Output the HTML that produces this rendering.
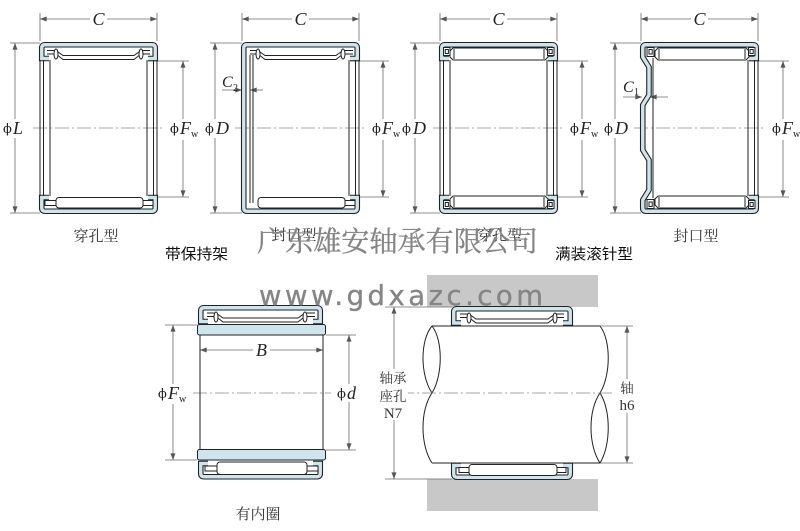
<!DOCTYPE html>
<html><head><meta charset="utf-8">
<style>
html,body{margin:0;padding:0;background:#fff;}
svg{display:block;}
.d{stroke:#6a6a6a;stroke-width:0.8;fill:none;}
.cl{stroke:#8a8a8a;stroke-width:0.8;fill:none;stroke-dasharray:14 3 2 3;}
.k{stroke:#222;stroke-width:1;fill:none;}
.kw{stroke:#222;stroke-width:1;fill:#fff;}
.b1{stroke:#222;stroke-width:5.6;fill:none;stroke-linejoin:miter;}
.b2{stroke:#cfe5ee;stroke-width:3.4;fill:none;stroke-linejoin:miter;}
.ring{stroke:#222;stroke-width:1;fill:#cfe5ee;}
.phi{font-family:"DejaVu Serif",serif;font-size:13px;fill:#222;}
.it{font-family:"Liberation Serif",serif;font-style:italic;font-size:18px;fill:#222;}
.sub{font-family:"Liberation Serif",serif;font-size:10px;fill:#222;}
.cap{font-family:"Liberation Serif","Noto Serif CJK SC",serif;font-size:15px;fill:#333;}
.hd{font-family:"Liberation Sans","Noto Sans CJK SC",sans-serif;font-size:15px;fill:#111;}
.wm{fill:#858585;stroke:#858585;stroke-width:0.35;}
</style></head>
<body>
<svg width="800" height="531" viewBox="0 0 800 531" xmlns="http://www.w3.org/2000/svg">
<defs>
<marker id="a" viewBox="0 0 8 6" refX="8" refY="3" markerWidth="7" markerHeight="5" markerUnits="userSpaceOnUse" orient="auto-start-reverse">
<path d="M0,0 L8,3 L0,6 z" fill="#555"/>
</marker>
</defs>

<!-- housing grey bars -->
<rect x="427" y="275" width="171" height="32" fill="#c8c8c8"/>
<rect x="427" y="479" width="171" height="32" fill="#c8c8c8"/>

<!-- ========== TOP ROW dimension lines ========== -->
<g>
<line class="cl" x1="33" y1="128" x2="164" y2="128"/>
<line class="cl" x1="235" y1="128" x2="366" y2="128"/>
<line class="cl" x1="433" y1="128" x2="564" y2="128"/>
<line class="cl" x1="634" y1="128" x2="765" y2="128"/>
</g>

<!-- B1 dims -->
<g>
<line class="d" x1="40" y1="13" x2="40" y2="41"/>
<line class="d" x1="157" y1="13" x2="157" y2="41"/>
<line class="d" x1="40" y1="19" x2="157" y2="19" marker-start="url(#a)" marker-end="url(#a)"/>
<line class="d" x1="10" y1="43" x2="40" y2="43"/>
<line class="d" x1="10" y1="213" x2="40" y2="213"/>
<line class="d" x1="15" y1="43" x2="15" y2="213" marker-start="url(#a)" marker-end="url(#a)"/>
<line class="d" x1="148" y1="61" x2="189" y2="61"/>
<line class="d" x1="148" y1="197" x2="189" y2="197"/>
<line class="d" x1="183" y1="61" x2="183" y2="197" marker-start="url(#a)" marker-end="url(#a)"/>
</g>
<!-- B2 dims -->
<g>
<line class="d" x1="242" y1="13" x2="242" y2="41"/>
<line class="d" x1="359" y1="13" x2="359" y2="41"/>
<line class="d" x1="242" y1="19" x2="359" y2="19" marker-start="url(#a)" marker-end="url(#a)"/>
<line class="d" x1="210" y1="43" x2="242" y2="43"/>
<line class="d" x1="210" y1="213" x2="242" y2="213"/>
<line class="d" x1="215" y1="43" x2="215" y2="213" marker-start="url(#a)" marker-end="url(#a)"/>
<line class="d" x1="350" y1="61" x2="389" y2="61"/>
<line class="d" x1="350" y1="197" x2="389" y2="197"/>
<line class="d" x1="383" y1="61" x2="383" y2="197" marker-start="url(#a)" marker-end="url(#a)"/>
<line class="d" x1="222" y1="90" x2="242" y2="90" marker-end="url(#a)"/>
<line class="d" x1="263" y1="90" x2="250" y2="90" marker-end="url(#a)"/>
</g>
<!-- B3 dims -->
<g>
<line class="d" x1="440" y1="13" x2="440" y2="41"/>
<line class="d" x1="557" y1="13" x2="557" y2="41"/>
<line class="d" x1="440" y1="19" x2="557" y2="19" marker-start="url(#a)" marker-end="url(#a)"/>
<line class="d" x1="410" y1="43" x2="440" y2="43"/>
<line class="d" x1="410" y1="213" x2="440" y2="213"/>
<line class="d" x1="415" y1="43" x2="415" y2="213" marker-start="url(#a)" marker-end="url(#a)"/>
<line class="d" x1="548" y1="61" x2="588" y2="61"/>
<line class="d" x1="548" y1="197" x2="588" y2="197"/>
<line class="d" x1="582" y1="61" x2="582" y2="197" marker-start="url(#a)" marker-end="url(#a)"/>
</g>
<!-- B4 dims -->
<g>
<line class="d" x1="641" y1="13" x2="641" y2="41"/>
<line class="d" x1="758" y1="13" x2="758" y2="41"/>
<line class="d" x1="641" y1="19" x2="758" y2="19" marker-start="url(#a)" marker-end="url(#a)"/>
<line class="d" x1="610" y1="43" x2="641" y2="43"/>
<line class="d" x1="610" y1="213" x2="641" y2="213"/>
<line class="d" x1="615" y1="43" x2="615" y2="213" marker-start="url(#a)" marker-end="url(#a)"/>
<line class="d" x1="749" y1="61" x2="789" y2="61"/>
<line class="d" x1="749" y1="197" x2="789" y2="197"/>
<line class="d" x1="783" y1="61" x2="783" y2="197" marker-start="url(#a)" marker-end="url(#a)"/>
<line class="d" x1="623" y1="97" x2="642" y2="97" marker-end="url(#a)"/>
<line class="d" x1="668" y1="97" x2="650" y2="97" marker-end="url(#a)"/>
</g>

<!-- ========== BEARING 1 (open end, caged) ========== -->
<g>
<path class="b1" d="M49 58.5 L41.75 58.5 L41.75 48 Q41.75 44.75 45 44.75 L152 44.75 Q155.25 44.75 155.25 48 L155.25 58.5 L148 58.5"/>
<path class="b2" d="M49 58.5 L41.75 58.5 L41.75 48 Q41.75 44.75 45 44.75 L152 44.75 Q155.25 44.75 155.25 48 L155.25 58.5 L148 58.5"/>
<path class="b1" d="M49 197.5 L41.75 197.5 L41.75 208 Q41.75 211.25 45 211.25 L152 211.25 Q155.25 211.25 155.25 208 L155.25 197.5 L148 197.5"/>
<path class="b2" d="M49 197.5 L41.75 197.5 L41.75 208 Q41.75 211.25 45 211.25 L152 211.25 Q155.25 211.25 155.25 208 L155.25 197.5 L148 197.5"/>
<path class="k" d="M40 60 V196 M43.5 60 V196 M50 60 V196 M157 60 V196 M153.5 60 V196 M147 60 V196"/>
<path class="k" d="M47 50.5 H56 L63 55.5 H134 L141 50.5 H150 M47 54 H56 L63 59.5 H134 L141 54 H150"/>
<ellipse class="kw" cx="56" cy="54" rx="2" ry="5"/>
<ellipse class="kw" cx="141" cy="54" rx="2" ry="5"/>
<rect class="kw" x="45" y="200.5" width="11" height="5"/>
<rect class="kw" x="143" y="200.5" width="10" height="5"/>
<rect class="kw" x="56" y="197.5" width="87" height="10.5" rx="3"/>
</g>

<!-- ========== BEARING 2 (closed end, caged) ========== -->
<g transform="translate(202,0)">
<path class="b1" d="M148 58.5 L155.25 58.5 L155.25 48 Q155.25 44.75 152 44.75 L45 44.75 Q41.75 44.75 41.75 48 L41.75 208 Q41.75 211.25 45 211.25 L152 211.25 Q155.25 211.25 155.25 208 L155.25 197.5 L148 197.5"/>
<path class="b2" d="M148 58.5 L155.25 58.5 L155.25 48 Q155.25 44.75 152 44.75 L45 44.75 Q41.75 44.75 41.75 48 L41.75 208 Q41.75 211.25 45 211.25 L152 211.25 Q155.25 211.25 155.25 208 L155.25 197.5 L148 197.5"/>
<path class="k" d="M48 55 V203 M51 55 V203 M157 60 V196 M153.5 60 V196 M147 60 V196"/>
<path class="k" d="M48 50.5 H56 L63 55.5 H134 L141 50.5 H151 M48 54 H56 L63 59.5 H134 L141 54 H151"/>
<ellipse class="kw" cx="56" cy="54" rx="2" ry="5"/>
<ellipse class="kw" cx="141" cy="54" rx="2" ry="5"/>
<rect class="kw" x="143" y="200.5" width="10" height="5"/>
<rect class="kw" x="56" y="197.5" width="87" height="10.5" rx="3"/>
</g>

<!-- ========== BEARING 3 (open end, full complement) ========== -->
<g transform="translate(400,0)">
<path class="b1" d="M49 58.5 L41.75 58.5 L41.75 48 Q41.75 44.75 45 44.75 L152 44.75 Q155.25 44.75 155.25 48 L155.25 58.5 L148 58.5"/>
<path class="b2" d="M49 58.5 L41.75 58.5 L41.75 48 Q41.75 44.75 45 44.75 L152 44.75 Q155.25 44.75 155.25 48 L155.25 58.5 L148 58.5"/>
<path class="b1" d="M49 197.5 L41.75 197.5 L41.75 208 Q41.75 211.25 45 211.25 L152 211.25 Q155.25 211.25 155.25 208 L155.25 197.5 L148 197.5"/>
<path class="b2" d="M49 197.5 L41.75 197.5 L41.75 208 Q41.75 211.25 45 211.25 L152 211.25 Q155.25 211.25 155.25 208 L155.25 197.5 L148 197.5"/>
<path class="k" d="M40 60 V196 M43.5 60 V196 M50 60 V196 M157 60 V196 M153.5 60 V196 M147 60 V196"/>
<path class="kw" d="M53 48 H145 L148 51 V57 L145 60 H53 L50 57 V51 Z"/>
<path class="k" d="M54 49 V59 M144 49 V59"/>
<rect class="kw" x="43.5" y="47.5" width="6.5" height="8"/>
<rect class="kw" x="45.2" y="49.5" width="3.2" height="4"/>
<rect class="kw" x="147.5" y="47.5" width="6.5" height="8"/>
<rect class="kw" x="149" y="49.5" width="3.2" height="4"/>
<path class="kw" d="M53 196 H145 L148 199 V205 L145 208 H53 L50 205 V199 Z"/>
<path class="k" d="M54 197 V207 M144 197 V207"/>
<rect class="kw" x="43.5" y="200.5" width="6.5" height="8"/>
<rect class="kw" x="45.2" y="202.5" width="3.2" height="4"/>
<rect class="kw" x="147.5" y="200.5" width="6.5" height="8"/>
<rect class="kw" x="149" y="202.5" width="3.2" height="4"/>
</g>

<!-- ========== BEARING 4 (closed end w/ bumps, full complement) ========== -->
<g transform="translate(601,0)">
<path class="b1" d="M148 58.5 L155.25 58.5 L155.25 48 Q155.25 44.75 152 44.75 L45 44.75 Q41.75 44.75 41.75 48 L41.75 57 L48 67 L48 95 L41.75 105 L41.75 150 L48 160 L48 190 L41.75 200 L41.75 208 Q41.75 211.25 45 211.25 L152 211.25 Q155.25 211.25 155.25 208 L155.25 197.5 L148 197.5"/>
<path class="b2" d="M148 58.5 L155.25 58.5 L155.25 48 Q155.25 44.75 152 44.75 L45 44.75 Q41.75 44.75 41.75 48 L41.75 57 L48 67 L48 95 L41.75 105 L41.75 150 L48 160 L48 190 L41.75 200 L41.75 208 Q41.75 211.25 45 211.25 L152 211.25 Q155.25 211.25 155.25 208 L155.25 197.5 L148 197.5"/>
<path class="k" d="M52 58 V198 M157 60 V196 M153.5 60 V196 M147 60 V196"/>
<path class="kw" d="M57 48 H145 L148 51 V57 L145 60 H57 L54 57 V51 Z"/>
<path class="k" d="M58 49 V59 M144 49 V59"/>
<rect class="kw" x="46" y="47.5" width="7" height="9"/>
<rect class="kw" x="48" y="49.5" width="3.2" height="4.5"/>
<rect class="kw" x="147.5" y="47.5" width="6.5" height="8"/>
<rect class="kw" x="149" y="49.5" width="3.2" height="4"/>
<path class="kw" d="M57 196 H145 L148 199 V205 L145 208 H57 L54 205 V199 Z"/>
<path class="k" d="M58 197 V207 M144 197 V207"/>
<rect class="kw" x="46" y="199.5" width="7" height="9"/>
<rect class="kw" x="48" y="202" width="3.2" height="4.5"/>
<rect class="kw" x="147.5" y="200.5" width="6.5" height="8"/>
<rect class="kw" x="149" y="202.5" width="3.2" height="4"/>
</g>

<!-- ========== BOTTOM-LEFT (with inner ring) ========== -->
<g>
<line class="cl" x1="193" y1="393" x2="331" y2="393"/>
<line class="d" x1="165" y1="325" x2="197" y2="325"/>
<line class="d" x1="165" y1="460" x2="197" y2="460"/>
<line class="d" x1="173" y1="325" x2="173" y2="460" marker-start="url(#a)" marker-end="url(#a)"/>
<line class="d" x1="326" y1="335" x2="356" y2="335"/>
<line class="d" x1="326" y1="450" x2="356" y2="450"/>
<line class="d" x1="349" y1="335" x2="349" y2="450" marker-start="url(#a)" marker-end="url(#a)"/>
<line class="d" x1="200" y1="350" x2="323" y2="350" marker-start="url(#a)" marker-end="url(#a)"/>

<path class="b1" d="M208 321.5 L200.75 321.5 L200.75 311 Q200.75 307.75 204 307.75 L317 307.75 Q320.25 307.75 320.25 311 L320.25 321.5 L313 321.5"/>
<path class="b2" d="M208 321.5 L200.75 321.5 L200.75 311 Q200.75 307.75 204 307.75 L317 307.75 Q320.25 307.75 320.25 311 L320.25 321.5 L313 321.5"/>
<path class="k" d="M207 313 H216 L223 318 H298 L305 313 H315 M207 316.5 H216 L223 322 H298 L305 316.5 H315"/>
<ellipse class="kw" cx="216" cy="317" rx="2" ry="5"/>
<ellipse class="kw" cx="305" cy="317" rx="2" ry="5"/>

<path class="b1" d="M208 463.5 L200.75 463.5 L200.75 473.5 Q200.75 476.75 204 476.75 L317 476.75 Q320.25 476.75 320.25 473.5 L320.25 463.5 L313 463.5"/>
<path class="b2" d="M208 463.5 L200.75 463.5 L200.75 473.5 Q200.75 476.75 204 476.75 L317 476.75 Q320.25 476.75 320.25 473.5 L320.25 463.5 L313 463.5"/>
<rect class="kw" x="205" y="466" width="12" height="5"/>
<rect class="kw" x="307" y="466" width="11" height="5"/>
<rect class="kw" x="217" y="462" width="90" height="12.5" rx="3"/>

<rect class="ring" x="197.5" y="324.5" width="128" height="10.5" rx="2"/>
<rect class="ring" x="197.5" y="449.5" width="128" height="10.5" rx="2"/>
<path class="k" d="M200 335 V449.5 M323 335 V449.5"/>
</g>

<!-- ========== BOTTOM-RIGHT (assembly) ========== -->
<g>
<line class="d" x1="385" y1="307" x2="452" y2="307"/>
<line class="d" x1="385" y1="479" x2="452" y2="479"/>
<line class="d" x1="394" y1="307" x2="394" y2="479" marker-start="url(#a)" marker-end="url(#a)"/>
<line class="d" x1="600" y1="326" x2="633" y2="326"/>
<line class="d" x1="600" y1="463" x2="633" y2="463"/>
<line class="d" x1="627" y1="326" x2="627" y2="463" marker-start="url(#a)" marker-end="url(#a)"/>

<path class="b1" d="M461 323 L453.75 323 L453.75 312 Q453.75 308.75 457 308.75 L567 308.75 Q570.25 308.75 570.25 312 L570.25 323 L563 323"/>
<path class="b2" d="M461 323 L453.75 323 L453.75 312 Q453.75 308.75 457 308.75 L567 308.75 Q570.25 308.75 570.25 312 L570.25 323 L563 323"/>
<path class="k" d="M460 314 H469 L476 319 H548 L555 314 H564 M460 317.5 H469 L476 323 H548 L555 317.5 H564"/>
<ellipse class="kw" cx="469" cy="318" rx="2" ry="5"/>
<ellipse class="kw" cx="555" cy="318" rx="2" ry="5"/>

<path class="b1" d="M461 465.5 L453.75 465.5 L453.75 474 Q453.75 477.25 457 477.25 L567 477.25 Q570.25 477.25 570.25 474 L570.25 465.5 L563 465.5"/>
<path class="b2" d="M461 465.5 L453.75 465.5 L453.75 474 Q453.75 477.25 457 477.25 L567 477.25 Q570.25 477.25 570.25 474 L570.25 465.5 L563 465.5"/>
<rect class="kw" x="459" y="467.5" width="10" height="5"/>
<rect class="kw" x="557" y="467.5" width="9" height="5"/>
<rect class="kw" x="469" y="464.5" width="88" height="11" rx="3"/>

<!-- shaft -->
<path d="M432 326 H600 C611 340 611 375 600 393 C611 410 611 445 600 463 H432 C420 445 420 410 432 393 C420 375 420 340 432 326 Z" fill="#fff" stroke="none"/>
<path class="k" d="M432 326 H600 M432 463 H600"/>
<path class="k" d="M432 326 C420 340 420 375 432 393 M432 326 C443 340 443 375 432 393 M432 393 C420 410 420 445 432 463"/>
<path class="k" d="M600 326 C611 340 611 375 600 393 M600 393 C611 410 611 445 600 463 M600 393 C588 410 588 445 600 463"/>
<line class="cl" x1="400" y1="393" x2="612" y2="393"/>
</g>

<!-- ========== LABELS ========== -->
<g fill="#fff">
<rect x="90" y="10" width="17" height="18"/>
<rect x="292" y="10" width="17" height="18"/>
<rect x="490" y="10" width="17" height="18"/>
<rect x="691" y="10" width="17" height="18"/>
<rect x="1" y="119" width="29" height="19"/>
<rect x="168" y="119" width="31" height="21"/>
<rect x="203" y="119" width="27" height="19"/>
<rect x="370" y="119" width="30" height="21"/>
<rect x="400" y="119" width="27" height="19"/>
<rect x="568" y="119" width="30" height="21"/>
<rect x="602" y="119" width="27" height="19"/>
<rect x="770" y="119" width="30" height="21"/>
<rect x="156" y="384" width="32" height="20"/>
<rect x="335" y="384" width="24" height="18"/>
<rect x="253" y="341" width="17" height="17"/>
<rect x="378" y="369" width="30" height="51"/>
<rect x="617" y="379" width="20" height="34"/>
</g>

<g>
<text class="it" x="98.5" y="25" text-anchor="middle">C</text>
<text class="it" x="300.5" y="25" text-anchor="middle">C</text>
<text class="it" x="498.5" y="25" text-anchor="middle">C</text>
<text class="it" x="699.5" y="25" text-anchor="middle">C</text>

<text class="phi" x="3" y="133">ϕ</text><text class="it" x="13" y="134">L</text>
<text class="phi" x="170" y="133">ϕ</text><text class="it" x="180" y="134">F</text><text class="sub" x="191" y="137">w</text>

<text class="phi" x="205" y="133">ϕ</text><text class="it" x="216" y="134">D</text>
<text class="phi" x="372" y="133">ϕ</text><text class="it" x="382" y="134">F</text><text class="sub" x="393" y="137">w</text>

<text class="phi" x="402" y="133">ϕ</text><text class="it" x="413" y="134">D</text>
<text class="phi" x="570" y="133">ϕ</text><text class="it" x="580" y="134">F</text><text class="sub" x="591" y="137">w</text>

<text class="phi" x="604" y="133">ϕ</text><text class="it" x="615" y="134">D</text>
<text class="phi" x="772" y="133">ϕ</text><text class="it" x="782" y="134">F</text><text class="sub" x="793" y="137">w</text>

<text class="it" x="222" y="87" style="font-size:16px">C</text><text class="sub" x="233" y="91">2</text>
<text class="it" x="623" y="92" style="font-size:16px">C</text><text class="sub" x="634" y="95">1</text>

<text class="phi" x="158" y="398">ϕ</text><text class="it" x="168" y="399">F</text><text class="sub" x="179" y="402">w</text>
<text class="phi" x="337" y="398">ϕ</text><text class="it" x="347" y="399">d</text>
<text class="it" x="261.5" y="356" text-anchor="middle">B</text>

<text class="cap" x="393" y="383" text-anchor="middle" style="font-size:13.5px">轴承</text>
<text class="cap" x="393" y="401" text-anchor="middle" style="font-size:13.5px">座孔</text>
<text class="cap" x="393" y="418" text-anchor="middle" style="font-size:15px">N7</text>
<text class="cap" x="627" y="393" text-anchor="middle" style="font-size:13.5px">轴</text>
<text class="cap" x="627" y="410" text-anchor="middle" style="font-size:15px">h6</text>

<text class="cap" x="96" y="241" text-anchor="middle">穿孔型</text>
<text class="cap" x="294" y="240" text-anchor="middle">封口型</text>
<text class="cap" x="499.5" y="240" text-anchor="middle">穿孔型</text>
<text class="cap" x="696" y="241" text-anchor="middle">封口型</text>
<text class="cap" x="258" y="519" text-anchor="middle">有内圈</text>

<text class="hd" x="165" y="259" textLength="63" lengthAdjust="spacingAndGlyphs">带保持架</text>
<text class="hd" x="555" y="259" textLength="78" lengthAdjust="spacingAndGlyphs">满装滚针型</text>
</g>

<!-- watermarks -->
<text class="wm" x="257" y="251" textLength="281" lengthAdjust="spacingAndGlyphs" style="font-family:'Noto Serif CJK SC',serif;font-size:28px">广东雄安轴承有限公司</text>
<text class="wm" x="259" y="305" textLength="284" lengthAdjust="spacing" style="font-family:'DejaVu Sans',sans-serif;font-size:27.5px">www.gdxazc.com</text>
</svg>
</body></html>
